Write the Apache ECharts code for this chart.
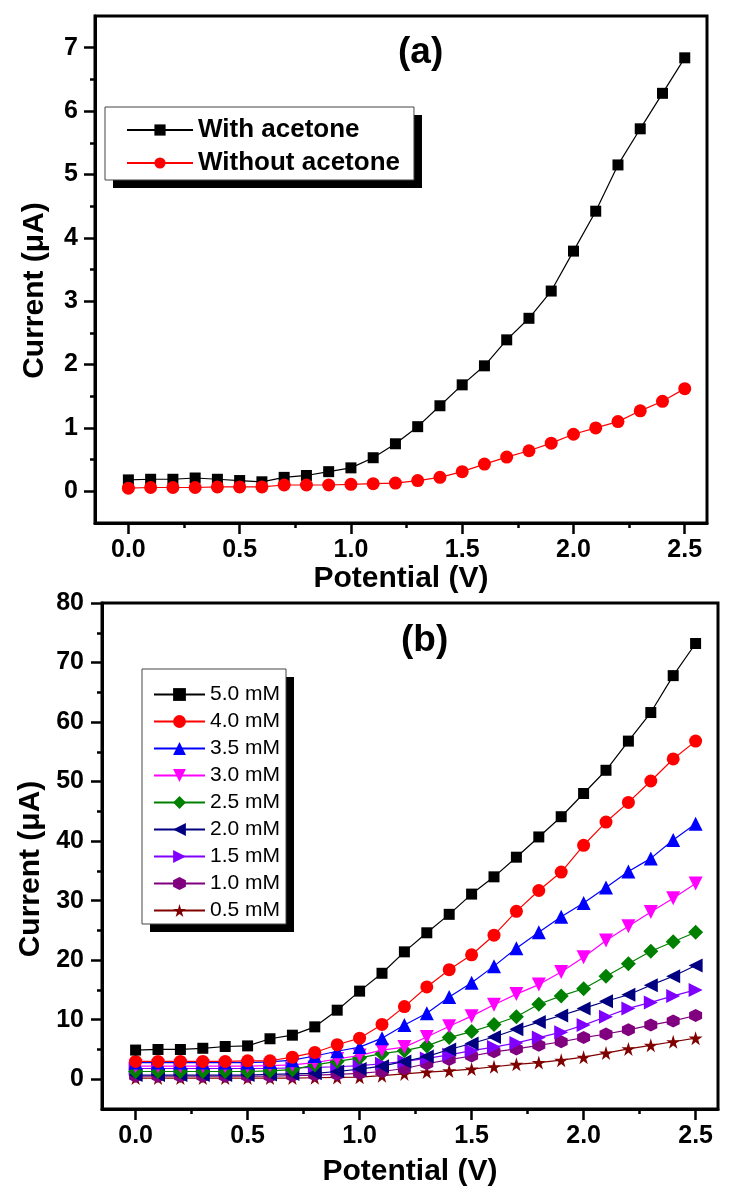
<!DOCTYPE html>
<html>
<head>
<meta charset="utf-8">
<script src="https://cdn.jsdelivr.net/npm/echarts@6/dist/echarts.min.js"></script>
<style>
  html, body { margin: 0; padding: 0; background: #fff; }
  #chart { width: 729px; height: 1192px; }
</style>
</head>
<body>
<div id="chart"></div>
<script>
// x values (V)
const potential = [0.0, 0.1, 0.2, 0.3, 0.4, 0.5, 0.6, 0.7, 0.8, 0.9, 1.0, 1.1, 1.2,
  1.3, 1.4, 1.5, 1.6, 1.7, 1.8, 1.9, 2.0, 2.1, 2.2, 2.3, 2.4, 2.5];

// panel (a), current in uA
const withAcetone = [0.18, 0.19, 0.19, 0.21, 0.19, 0.17, 0.15, 0.22, 0.25, 0.31, 0.37, 0.53, 0.75,
  1.02, 1.35, 1.68, 1.98, 2.39, 2.73, 3.16, 3.79, 4.42, 5.15, 5.72, 6.28, 6.84];
const withoutAcetone = [0.05, 0.06, 0.06, 0.06, 0.07, 0.07, 0.07, 0.10, 0.10, 0.10, 0.11, 0.12, 0.13,
  0.17, 0.22, 0.31, 0.43, 0.54, 0.64, 0.76, 0.90, 1.00, 1.10, 1.27, 1.42, 1.62];

// panel (b), current in uA for each concentration
const concNames = ['5.0 mM', '4.0 mM', '3.5 mM', '3.0 mM', '2.5 mM', '2.0 mM', '1.5 mM', '1.0 mM', '0.5 mM'];
const c50 = [4.9, 5.0, 5.0, 5.2, 5.5, 5.6, 6.8, 7.4, 8.8, 11.6, 14.8, 17.8, 21.4,
  24.6, 27.7, 31.1, 34.0, 37.3, 40.7, 44.1, 48.0, 51.9, 56.8, 61.6, 67.8, 73.2];
const c40 = [3.0, 3.0, 3.0, 3.0, 3.0, 3.1, 3.1, 3.7, 4.5, 5.8, 6.9, 9.2, 12.2,
  15.5, 18.4, 20.9, 24.2, 28.2, 31.7, 34.8, 39.3, 43.2, 46.5, 50.1, 53.8, 56.8];
const c35 = [2.8, 2.8, 2.8, 2.8, 2.8, 2.8, 2.9, 3.2, 3.9, 4.7, 5.4, 6.9, 9.1,
  11.1, 13.8, 16.2, 19.0, 22.0, 24.7, 27.3, 29.6, 32.2, 34.9, 37.1, 40.2, 42.9];
const c30 = [2.2, 2.2, 2.2, 2.2, 2.2, 2.2, 2.3, 2.4, 2.8, 3.4, 4.0, 4.9, 5.4,
  7.1, 8.9, 10.6, 12.5, 14.3, 15.9, 18.0, 20.5, 23.3, 25.7, 28.1, 30.4, 32.9];
const c25 = [1.3, 1.3, 1.3, 1.3, 1.3, 1.3, 1.4, 1.6, 2.4, 3.0, 3.6, 4.3, 4.8,
  5.6, 7.0, 8.0, 9.2, 10.5, 12.6, 14.0, 15.2, 17.3, 19.4, 21.5, 23.1, 24.7];
const c20 = [0.7, 0.7, 0.7, 0.7, 0.7, 0.7, 0.8, 0.9, 1.0, 1.3, 1.7, 2.2, 3.0,
  3.8, 5.0, 6.0, 7.1, 8.4, 9.6, 10.7, 11.9, 13.1, 14.2, 15.8, 17.3, 19.1];
const c15 = [1.8, 1.8, 1.8, 1.8, 1.8, 1.8, 1.8, 1.9, 2.0, 2.1, 2.3, 2.6, 3.0,
  3.5, 4.1, 4.8, 5.4, 6.1, 7.0, 7.9, 9.1, 10.5, 11.9, 12.9, 14.0, 15.0];
const c10 = [0.5, 0.5, 0.5, 0.5, 0.5, 0.5, 0.5, 0.6, 0.7, 0.8, 1.0, 1.3, 1.8,
  2.6, 3.3, 3.9, 4.6, 5.1, 5.7, 6.3, 7.0, 7.6, 8.3, 9.1, 9.8, 10.7];
const c05 = [0.2, 0.2, 0.2, 0.2, 0.2, 0.2, 0.2, 0.2, 0.25, 0.3, 0.35, 0.6, 0.9,
  1.2, 1.4, 1.7, 2.1, 2.5, 2.8, 3.2, 3.7, 4.4, 5.1, 5.7, 6.3, 6.9];

// tick positions
const xMajor = [0, 0.5, 1.0, 1.5, 2.0, 2.5];
const xMinor = [0.25, 0.75, 1.25, 1.75, 2.25];
const yMajorA = [0, 1, 2, 3, 4, 5, 6, 7];
const yMinorA = [0.5, 1.5, 2.5, 3.5, 4.5, 5.5, 6.5];
const yMajorB = [0, 10, 20, 30, 40, 50, 60, 70, 80];
const yMinorB = [5, 15, 25, 35, 45, 55, 65, 75];

const FONT = 'Liberation Sans, Arial, Helvetica, sans-serif';
const HEXAGON = 'path://M50,0 L93,25 L93,75 L50,100 L7,75 L7,25 Z';
const STAR = 'path://M50,0 L61,35 L98,35 L68,56 L79,90 L50,69 L21,90 L32,56 L2,35 L39,35 Z';

const seriesStyleB = [
  { color: '#000000', symbol: 'rect', size: 11, rotate: 0 },
  { color: '#ff0000', symbol: 'circle', size: 13, rotate: 0 },
  { color: '#0000ff', symbol: 'triangle', size: 14, rotate: 0 },
  { color: '#ff00ff', symbol: 'triangle', size: 14, rotate: 180 },
  { color: '#008000', symbol: 'diamond', size: 15, rotate: 0 },
  { color: '#000080', symbol: 'triangle', size: 14, rotate: 90 },
  { color: '#8000ff', symbol: 'triangle', size: 14, rotate: -90 },
  { color: '#800080', symbol: HEXAGON, size: 13, rotate: 0 },
  { color: '#800000', symbol: STAR, size: 14, rotate: 0 }
];
const concData = [c50, c40, c35, c30, c25, c20, c15, c10, c05];

function pairs(ys) {
  return potential.map((x, i) => [x, ys[i]]);
}

function mainX(grid, nameGap) {
  return {
    type: 'value', gridIndex: grid, position: 'bottom', min: -0.15, max: 2.6,
    name: 'Potential (V)', nameLocation: 'middle', nameGap: nameGap,
    nameTextStyle: { fontFamily: FONT, fontSize: 30, fontWeight: 'bold', color: '#000' },
    axisLine: { onZero: false, lineStyle: { color: '#000', width: 3 } },
    axisTick: { customValues: xMajor, length: 11, lineStyle: { color: '#000', width: 2.5 } },
    axisLabel: { customValues: xMajor, margin: 15, fontFamily: FONT, fontSize: 25, fontWeight: 'bold', color: '#000',
      formatter: v => v.toFixed(1) },
    splitLine: { show: false }
  };
}
function minorX(grid) {
  return {
    type: 'value', gridIndex: grid, position: 'bottom', min: -0.15, max: 2.6,
    axisLine: { show: false, onZero: false },
    axisTick: { customValues: xMinor, length: 5, lineStyle: { color: '#000', width: 2.5 } },
    axisLabel: { show: false },
    splitLine: { show: false }
  };
}
function mainY(grid, min, max, ticks, margin, nameGap, pad) {
  return {
    type: 'value', gridIndex: grid, position: 'left', min: min, max: max,
    name: 'Current (μA)', nameLocation: 'middle', nameGap: nameGap,
    nameTextStyle: { fontFamily: FONT, fontSize: 30, fontWeight: 'bold', color: '#000', padding: pad },
    axisLine: { onZero: false, lineStyle: { color: '#000', width: 3 } },
    axisTick: { customValues: ticks, length: 11, lineStyle: { color: '#000', width: 2.5 } },
    axisLabel: { customValues: ticks, margin: margin, fontFamily: FONT, fontSize: 25, fontWeight: 'bold', color: '#000' },
    splitLine: { show: false }
  };
}
function minorY(grid, min, max, ticks) {
  return {
    type: 'value', gridIndex: grid, position: 'left', min: min, max: max,
    axisLine: { show: false, onZero: false },
    axisTick: { customValues: ticks, length: 5, lineStyle: { color: '#000', width: 2.5 } },
    axisLabel: { show: false },
    splitLine: { show: false }
  };
}

const series = [
  {
    name: 'With acetone', type: 'line', xAxisIndex: 0, yAxisIndex: 0,
    data: pairs(withAcetone), symbol: 'rect', symbolSize: 11,
    itemStyle: { color: '#000' }, lineStyle: { color: '#000', width: 1.2 }
  },
  {
    name: 'Without acetone', type: 'line', xAxisIndex: 0, yAxisIndex: 0,
    data: pairs(withoutAcetone), symbol: 'circle', symbolSize: 13,
    itemStyle: { color: '#ff0000' }, lineStyle: { color: '#ff0000', width: 1.2 }
  }
];
concNames.forEach((name, i) => {
  const st = seriesStyleB[i];
  series.push({
    name: name, type: 'line', xAxisIndex: 2, yAxisIndex: 2,
    data: pairs(concData[i]), symbol: st.symbol, symbolSize: st.size, symbolRotate: st.rotate,
    itemStyle: { color: st.color }, lineStyle: { color: st.color, width: 1.2 },
    z: 10 - i
  });
});

// two legends per panel: a hidden-content one that only paints the white box
// with its black drop shadow, and the visible one with the thin border on top
const legendA = {
  data: ['With acetone', 'Without acetone'], orient: 'vertical', selectedMode: false,
  left: 105, top: 107, padding: [10, 14, 4, 21], itemGap: 7,
  itemWidth: 66, itemHeight: 14,
  textStyle: { fontFamily: FONT, fontSize: 26, fontWeight: 'bold', color: '#000', lineHeight: 26 }
};
const legendB = {
  data: concNames, orient: 'vertical', selectedMode: false,
  left: 142, top: 669, padding: [15, 6, 3, 11], itemGap: 6,
  itemWidth: 51, itemHeight: 16,
  textStyle: { fontFamily: FONT, fontSize: 21, color: '#000', lineHeight: 20 }
};
function shadowLegend(base) {
  return Object.assign({}, base, {
    z: 3, backgroundColor: '#fff', borderWidth: 0,
    shadowColor: '#000', shadowBlur: 0, shadowOffsetX: 8, shadowOffsetY: 8,
    textStyle: Object.assign({}, base.textStyle, { color: 'rgba(0,0,0,0)' }),
    itemStyle: { opacity: 0 }, lineStyle: { opacity: 0 }
  });
}
function frontLegend(base) {
  return Object.assign({}, base, {
    z: 5, backgroundColor: 'transparent', borderColor: '#444', borderWidth: 1
  });
}

const chart = echarts.init(document.getElementById('chart'));
chart.setOption({
  animation: false,
  backgroundColor: '#fff',
  grid: [
    { left: 95, right: 22, top: 16, height: 507, show: true, borderColor: '#000', borderWidth: 3 },
    { left: 102, right: 11, top: 603, height: 506, show: true, borderColor: '#000', borderWidth: 3 }
  ],
  xAxis: [mainX(0, 40), minorX(0), mainX(1, 48), minorX(1)],
  yAxis: [
    mainY(0, -0.5, 7.5, yMajorA, 17, 45, [0, 42, 0, 0]),
    minorY(0, -0.5, 7.5, yMinorA),
    mainY(1, -5, 80, yMajorB, 18, 54, [0, 26, 0, 0]),
    minorY(1, -5, 80, yMinorB)
  ],
  legend: [shadowLegend(legendA), frontLegend(legendA), shadowLegend(legendB), frontLegend(legendB)],
  graphic: [
    { type: 'text', left: 398, top: 34, style: { text: '(a)', font: 'bold 37px ' + FONT, fill: '#000' } },
    { type: 'text', left: 401, top: 622, style: { text: '(b)', font: 'bold 37px ' + FONT, fill: '#000' } }
  ],
  series: series
});
</script>
</body>
</html>
